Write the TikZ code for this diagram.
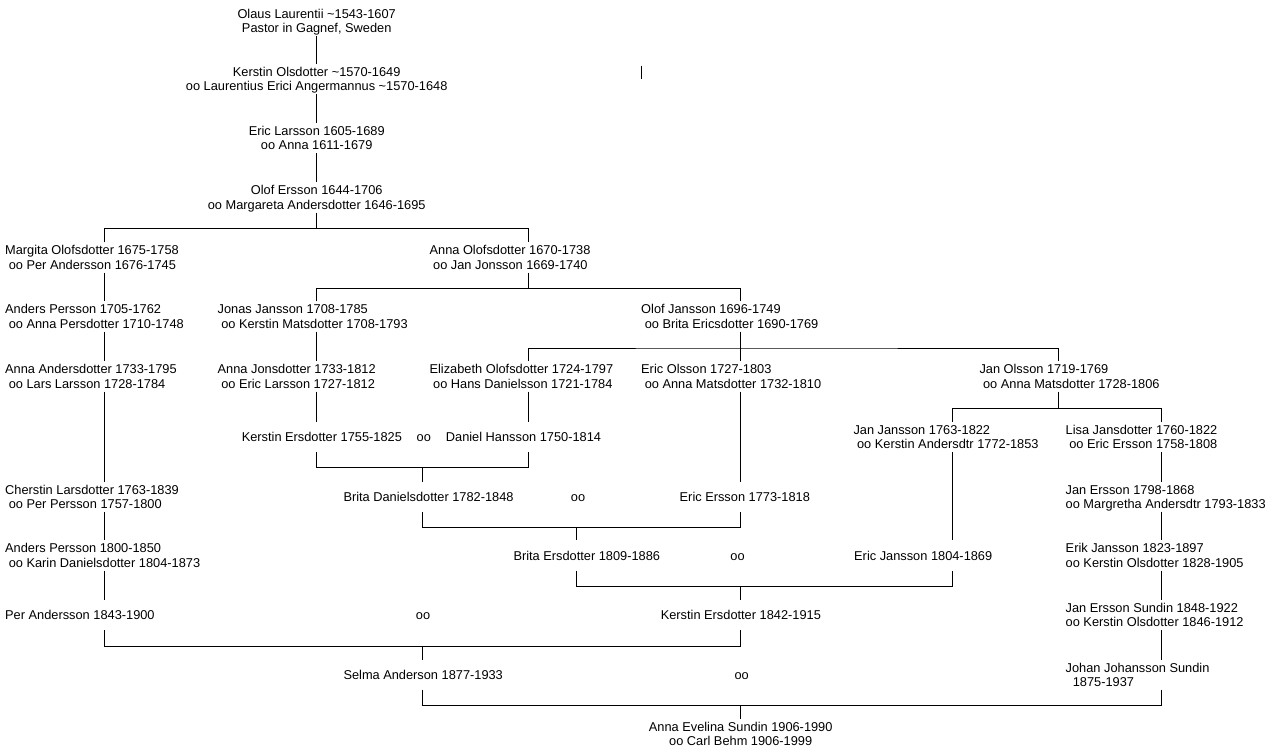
\documentclass[tikz,border=0pt]{standalone}
\usepackage{fontspec}
\setmainfont{Liberation Sans}
\newcommand\pad{\hspace*{0.278em}}
\tikzset{
	person/.style={anchor=west, align=left, inner xsep=0pt, inner ysep=0pt, minimum height=30pt, text depth=0pt, font=\fontsize{12.8}{14.3}\selectfont},
	personc/.style={person, anchor=center, align=center},
	marriage/.style={anchor=center, inner sep=0pt, text height=9.2pt, text depth=0pt, font=\fontsize{12.8}{14.3}\selectfont},
	line/.style={line width=1pt}
}
\begin{document}
\begin{tikzpicture}[x=1pt, y=-1pt]
			\useasboundingbox (0,0) rectangle (1271,748);
			\coordinate (cA) at (104.5,0);
			\coordinate (cB) at (316.7,0);
			\coordinate (cBC) at (422.6,0);
			\coordinate (cC) at (528.4,0);
			\coordinate (cCD) at (576.7,0);
			\coordinate (cD) at (740.7,0);
			\coordinate (cE) at (952.3,0);
			\coordinate (cEF) at (1058.3,0);
			\coordinate (cF) at (1161.7,0);
			\coordinate (j1) at (316.7,228.3);
			\coordinate (j2) at (528.4,288.3);
			\coordinate (j3) at (740.7,348);
			\coordinate (j4) at (1058.3,408);
			\coordinate (j5) at (422.6,467.3);
			\coordinate (j6) at (576.7,527.3);
			\coordinate (j7) at (740.7,586);
			\coordinate (j8) at (422.6,646.5);
			\coordinate (j9) at (740.7,705.3);
			\coordinate (t1) at (641.5,65.7);
			\coordinate (t2) at (641.5,79.3);

			\node[personc](olaus) at (316.7,21.2){Olaus Laurentii \textasciitilde1543-1607\\Pastor in Gagnef, Sweden};
			\node[personc](kerstinO) at (316.7,79){Kerstin Olsdotter \textasciitilde1570-1649\\oo Laurentius Erici Angermannus \textasciitilde1570-1648};
			\node[personc](ericL) at (316.7,138){Eric Larsson 1605-1689\\oo Anna 1611-1679};
			\node[personc](olof) at (316.7,197.3){Olof Ersson 1644-1706\\oo Margareta Andersdotter 1646-1695};

			\node[person](margita) at (5,257.5){Margita Olofsdotter 1675-1758\\\pad oo Per Andersson 1676-1745};
			\node[person](annaO) at (429.4,257.5){Anna Olofsdotter 1670-1738\\\pad oo Jan Jonsson 1669-1740};

			\node[person](andersP) at (5,316.5){Anders Persson 1705-1762\\\pad oo Anna Persdotter 1710-1748};
			\node[person](jonas) at (217.5,316.5){Jonas Jansson 1708-1785\\\pad oo Kerstin Matsdotter 1708-1793};
			\node[person](olofJ) at (641,316.5){Olof Jansson 1696-1749\\\pad oo Brita Ericsdotter 1690-1769};

			\node[person](annaA) at (5,376.3){Anna Andersdotter 1733-1795\\\pad oo Lars Larsson 1728-1784};
			\node[person](annaJ) at (217.5,376.3){Anna Jonsdotter 1733-1812\\\pad oo Eric Larsson 1727-1812};
			\node[person](elizabeth) at (429.4,376.3){Elizabeth Olofsdotter 1724-1797\\\pad oo Hans Danielsson 1721-1784};
			\node[person](ericO) at (641,376.3){Eric Olsson 1727-1803\\\pad oo Anna Matsdotter 1732-1810};
			\node[person](janO) at (979.3,376.3){Jan Olsson 1719-1769\\\pad oo Anna Matsdotter 1728-1806};

			\node[person](kerstinE) at (241.6,436.7){Kerstin Ersdotter 1755-1825};
			\node[marriage](oo1) at (423.8,436.7){oo};
			\node[person](daniel) at (445.7,436.7){Daniel Hansson 1750-1814};
			\node[person](janJ) at (853.3,436.7){Jan Jansson 1763-1822\\\pad oo Kerstin Andersdtr 1772-1853};
			\node[person](lisa) at (1065.5,436.7){Lisa Jansdotter 1760-1822\\\pad oo Eric Ersson 1758-1808};

			\node[person](cherstin) at (5,496.7){Cherstin Larsdotter 1763-1839\\\pad oo Per Persson 1757-1800};
			\node[person](britaD) at (343.3,496.7){Brita Danielsdotter 1782-1848};
			\node[marriage](oo2) at (578,496.7){oo};
			\node[person](ericE) at (679.5,496.7){Eric Ersson 1773-1818};
			\node[person](janE) at (1065.5,496.7){Jan Ersson 1798-1868\\oo Margretha Andersdtr 1793-1833};

			\node[person](andersP2) at (5,555.5){Anders Persson 1800-1850\\\pad oo Karin Danielsdotter 1804-1873};
			\node[person](britaE) at (513.3,555.5){Brita Ersdotter 1809-1886};
			\node[marriage](oo3) at (737.5,555.5){oo};
			\node[person](ericJ) at (854,555.5){Eric Jansson 1804-1869};
			\node[person](erikJ) at (1065.5,555.5){Erik Jansson 1823-1897\\oo Kerstin Olsdotter 1828-1905};

			\node[person](per) at (5,615){Per Andersson 1843-1900};
			\node[marriage](oo4) at (423,615){oo};
			\node[person](kerstinE2) at (660.6,615){Kerstin Ersdotter 1842-1915};
			\node[person](janES) at (1065.5,615){Jan Ersson Sundin 1848-1922\\oo Kerstin Olsdotter 1846-1912};

			\node[person](selma) at (343.3,675){Selma Anderson 1877-1933};
			\node[marriage](oo5) at (741.7,675){oo};
			\node[person](johan) at (1065.5,675){Johan Johansson Sundin\\\pad\pad 1875-1937};

			\node[personc](annaE) at (740.7,734){Anna Evelina Sundin 1906-1990\\oo Carl Behm 1906-1999};

			\draw[line] (t1) -- (t2);
			\draw[line] (olaus) -- (kerstinO);
			\draw[line] (kerstinO) -- (ericL);
			\draw[line] (ericL) -- (olof);
			\draw[line] (olof) -- (j1);
			\draw[line] (margita.north -| cA) |- (j1) -| (annaO.north -| cC);
			\draw[line] (annaO.south -| cC) -- (j2);
			\draw[line] (jonas.north -| cB) |- (j2) -| (olofJ.north -| cD);
			\draw[line] (olofJ.south -| cD) -- (j3);
			\draw[line] (elizabeth.north -| cC) |- (j3) -| (janO.north -| cEF);
			\draw[line] (j3) -- (ericO.north -| cD);
			\draw[line] (janO.south -| cEF) -- (j4);
			\draw[line] (janJ.north -| cE) |- (j4) -| (lisa.north -| cF);

			\draw[line] (margita.south -| cA) -- (andersP.north -| cA);
			\draw[line] (andersP.south -| cA) -- (annaA.north -| cA);
			\draw[line] (annaA.south -| cA) -- (cherstin.north -| cA);
			\draw[line] (cherstin.south -| cA) -- (andersP2.north -| cA);
			\draw[line] (andersP2.south -| cA) -- (per.north -| cA);
			\draw[line] (jonas.south -| cB) -- (annaJ.north -| cB);
			\draw[line] (annaJ.south -| cB) -- (kerstinE.north -| cB);
			\draw[line] (elizabeth.south -| cC) -- (daniel.north -| cC);
			\draw[line] (ericO.south -| cD) -- (ericE.north -| cD);
			\draw[line] (janJ.south -| cE) -- (ericJ.north -| cE);
			\draw[line] (lisa.south -| cF) -- (janE.north -| cF);
			\draw[line] (janE.south -| cF) -- (erikJ.north -| cF);
			\draw[line] (erikJ.south -| cF) -- (janES.north -| cF);
			\draw[line] (janES.south -| cF) -- (johan.north -| cF);

			\draw[line] (kerstinE.south -| cB) |- (j5) -| (daniel.south -| cC);
			\draw[line] (j5) -- (britaD.north -| cBC);
			\draw[line] (britaD.south -| cBC) |- (j6) -| (ericE.south -| cD);
			\draw[line] (j6) -- (britaE.north -| cCD);
			\draw[line] (britaE.south -| cCD) |- (j7) -| (ericJ.south -| cE);
			\draw[line] (j7) -- (kerstinE2.north -| cD);
			\draw[line] (per.south -| cA) |- (j8) -| (kerstinE2.south -| cD);
			\draw[line] (j8) -- (selma.north -| cBC);
			\draw[line] (selma.south -| cBC) |- (j9) -| (johan.south -| cF);
			\draw[line] (j9) -- (annaE);
\end{tikzpicture}
\end{document}
